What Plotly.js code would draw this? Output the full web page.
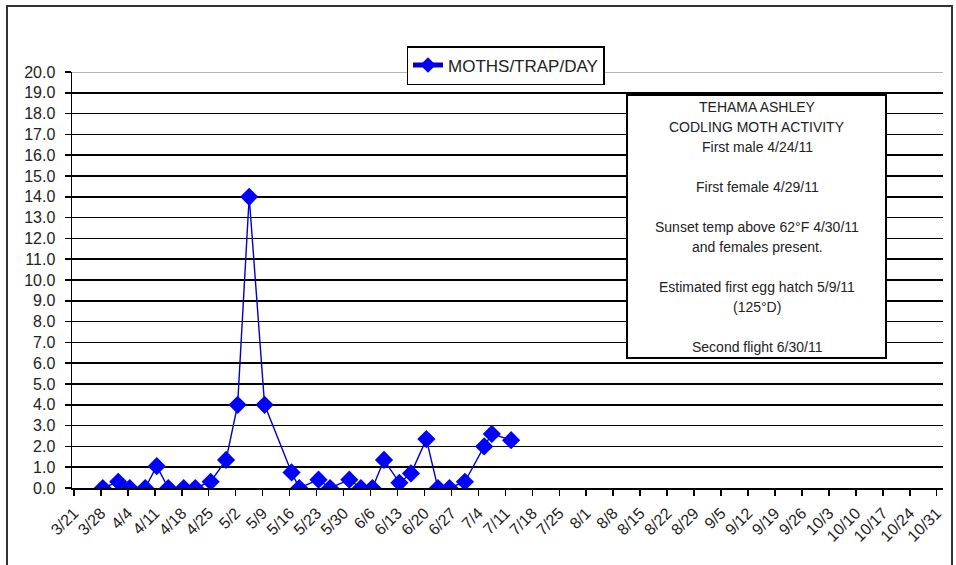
<!DOCTYPE html>
<html>
<head>
<meta charset="utf-8">
<script src="https://cdn.plot.ly/plotly-3.0.1.min.js"></script>
<style>
  html, body { margin: 0; padding: 0; background: #ffffff; }
  #chart { width: 956px; height: 565px; }
</style>
</head>
<body>
<div id="chart"></div>
<script>
// ---- data ----
const seriesName = 'MOTHS/TRAP/DAY';
const sampleDates = [
  '2011-03-28','2011-04-01','2011-04-04','2011-04-08','2011-04-11','2011-04-14',
  '2011-04-18','2011-04-21','2011-04-25','2011-04-29','2011-05-02','2011-05-05',
  '2011-05-09','2011-05-16','2011-05-18','2011-05-23','2011-05-26','2011-05-31',
  '2011-06-03','2011-06-06','2011-06-09','2011-06-13','2011-06-16','2011-06-20',
  '2011-06-23','2011-06-26','2011-06-30','2011-07-05','2011-07-07','2011-07-12'
];
const mothsPerTrapPerDay = [
  0.0, 0.3, 0.0, 0.0, 1.05, 0.0,
  0.0, 0.0, 0.3, 1.35, 4.0, 14.0,
  4.0, 0.75, 0.0, 0.4, 0.0, 0.4,
  0.0, 0.0, 1.35, 0.25, 0.7, 2.35,
  0.0, 0.0, 0.3, 2.0, 2.6, 2.3
];
const boxLines = [
  'TEHAMA ASHLEY',
  'CODLING MOTH ACTIVITY',
  'First male 4/24/11',
  '',
  'First female 4/29/11',
  '',
  'Sunset temp above 62°F 4/30/11',
  'and females present.',
  '',
  'Estimated first egg hatch 5/9/11',
  '(125°D)',
  '',
  'Second flight 6/30/11'
];

// ---- layout geometry ----
const W = 956, H = 565;
const M = { l: 72, r: 13, t: 72, b: 77 };
const PW = W - M.l - M.r, PH = H - M.t - M.b;
const px = v => (v - M.l) / PW;
const py = v => (M.t + PH - v) / PH;

const FONT = 'Liberation Sans, Arial, sans-serif';

// Excel date axis puts each day's point in the middle of the day
const xVals = sampleDates.map(d => d + ' 12:00');

const trace = {
  type: 'scatter',
  mode: 'lines+markers',
  name: seriesName,
  x: xVals,
  y: mothsPerTrapPerDay,
  line: { color: '#0000cc', width: 1.4 },
  marker: { symbol: 'diamond', size: 14, color: '#0000ff', line: { width: 0 } }
};

const annotations = boxLines.map((t, i) => ({ t, i })).filter(o => o.t !== '').map(o => ({
  xref: 'paper', yref: 'paper',
  x: px(757), y: py(106.7 + o.i * 20),
  xanchor: 'center', yanchor: 'middle',
  text: o.t, showarrow: false,
  font: { family: FONT, size: 14, color: '#222' }
}));

const shapes = [
  // lighter top border of plot area
  { type: 'line', xref: 'paper', yref: 'y', x0: 0, x1: 1, y0: 20, y1: 20,
    line: { color: '#9a9a9a', width: 1.5 }, layer: 'above' },
  // info box
  { type: 'rect', xref: 'paper', yref: 'paper',
    x0: px(627), x1: px(886), y0: py(358), y1: py(95),
    fillcolor: '#ffffff', line: { color: '#000', width: 2 }, layer: 'above' },
  // outer chart frame
  { type: 'rect', xref: 'paper', yref: 'paper',
    x0: px(7), x1: px(952), y0: py(575), y1: py(6),
    fillcolor: 'rgba(0,0,0,0)', line: { color: '#333', width: 2 }, layer: 'above' }
];

const layout = {
  width: W, height: H, autosize: false,
  margin: { l: M.l, r: M.r, t: M.t, b: M.b, pad: 0 },
  paper_bgcolor: '#ffffff', plot_bgcolor: '#ffffff',
  font: { family: FONT, color: '#222' },
  showlegend: true,
  legend: {
    x: px(505.5), y: py(46), xanchor: 'center', yanchor: 'top',
    bgcolor: '#ffffff', bordercolor: '#000', borderwidth: 1.5,
    itemsizing: 'constant',
    font: { family: FONT, size: 17, color: '#222' }
  },
  xaxis: {
    type: 'date',
    range: ['2011-03-20 12:00', '2011-11-01 15:00'],
    tick0: '2011-03-21', dtick: 7 * 86400000,
    tickformat: '%-m/%-d', tickangle: -45,
    ticks: 'outside', ticklen: 6, tickwidth: 1.5, tickcolor: '#000',
    ticklabelstandoff: 2,
    showline: true, linecolor: '#000', linewidth: 1.5,
    showgrid: false, zeroline: false,
    tickfont: { family: FONT, size: 16, color: '#222' }
  },
  yaxis: {
    range: [0, 20], dtick: 1, tick0: 0, tickformat: '.1f',
    ticks: 'outside', ticklen: 6, tickwidth: 1.5, tickcolor: '#000',
    ticklabelstandoff: 6,
    showline: true, linecolor: '#000', linewidth: 1.5,
    showgrid: true, gridcolor: '#000', gridwidth: 1.6,
    zeroline: false,
    tickfont: { family: FONT, size: 16, color: '#222' }
  },
  shapes: shapes,
  annotations: annotations
};

Plotly.newPlot('chart', [trace], layout, { staticPlot: true, displayModeBar: false });
</script>
</body>
</html>
